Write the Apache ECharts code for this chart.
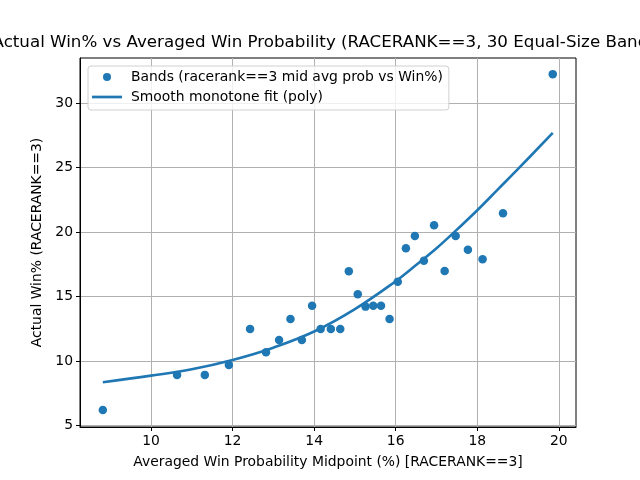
<!DOCTYPE html>
<html lang="en">
<head>
    <meta charset="UTF-8">
    <title>Actual Win% vs Averaged Win Probability</title>
    <script src="https://cdn.jsdelivr.net/npm/echarts@6/dist/echarts.min.js"></script>
    <style>
        *{
            margin: 0;
            padding: 0;
        }
        html ,body{
            width: 100%;
            height: 100%;
            overflow: hidden;
            background: #fff;
        }
        .container{
            width: 640px;
            height: 480px;
        }
    </style>
</head>
<body>
<div class="container"></div>
<script>
    // band midpoints (x) and actual win% (y)
    let bandX=[8.82,10.64,11.32,11.91,12.43,12.82,13.14,13.42,13.70,13.95,14.16,14.41,14.64,14.85,15.07,
        15.26,15.45,15.64,15.85,16.05,16.25,16.47,16.69,16.94,17.20,17.47,17.77,18.13,18.63,19.85];
    let bandWin=[6.22,8.94,8.94,9.71,12.50,10.70,11.65,13.28,11.65,14.29,12.50,12.50,12.50,16.98,15.19,
        14.23,14.29,14.29,13.28,16.15,18.76,19.71,17.78,20.54,17.00,19.71,18.63,17.91,21.47,32.25];
    // smooth fit
    let fitX=[8.82,10,11,12,13,14,15,16,16.5,17,17.5,18,18.5,19,19.85];
    let fitY=[8.37,8.88,9.38,10.1,11.05,12.3,14.04,16.2,17.45,18.75,20.2,21.7,23.3,24.9,27.7];
    let xTicks=[10,12,14,16,18,20];
    let yTicks=[5,10,15,20,25,30];

    let blue='#1f77b4';
    let font='DejaVu Sans';
    let container=document.querySelector('.container');
    let mycharts=echarts.init(container,null,{renderer:'canvas'});

    let options={
        backgroundColor:'#fff',
        animation:false,
        graphic:[{
            type:'text',
            x:328,
            y:43,
            style:{
                text:'Actual Win% vs Averaged Win Probability (RACERANK==3, 30 Equal-Size Bands)',
                font:'16.7px "DejaVu Sans"',
                fill:'#000',
                align:'center',
                verticalAlign:'middle'
            }
        }],
        grid:{
            left:80,
            right:64,
            top:58,
            bottom:53,
            show:true,
            borderColor:'#000',
            borderWidth:1,
            containLabel:false
        },
        legend:{
            left:88,
            top:66,
            orient:'vertical',
            itemWidth:30,
            itemHeight:8,
            itemGap:6,
            padding:[4,6,6,4],
            backgroundColor:'rgba(255,255,255,0.8)',
            borderColor:'#d0d0d0',
            borderWidth:1,
            borderRadius:3,
            textStyle:{
                fontFamily:font,
                fontSize:13.9,
                color:'#000',
                padding:[0,0,0,4]
            },
            data:[
                {name:'Bands (racerank==3 mid avg prob vs Win%)',icon:'circle'},
                {name:'Smooth monotone fit (poly)',icon:'path://M0,0h30v2.7h-30z',itemStyle:{color:blue,borderWidth:0}}
            ]
        },
        xAxis:{
            type:'value',
            min:8.26,
            max:20.42,
            name:'Averaged Win Probability Midpoint (%) [RACERANK==3]',
            nameLocation:'middle',
            nameGap:28,
            nameTextStyle:{fontFamily:font,fontSize:13.9,color:'#000'},
            axisLine:{show:true,onZero:false,lineStyle:{color:'#000',width:1}},
            axisTick:{show:true,length:4,inside:false,customValues:xTicks,lineStyle:{color:'#000'}},
            axisLabel:{customValues:xTicks,margin:7,fontFamily:font,fontSize:13.9,color:'#000'},
            splitLine:{show:true,lineStyle:{color:'#b0b0b0',width:1}}
        },
        yAxis:{
            type:'value',
            min:4.9,
            max:33.5,
            name:'Actual Win% (RACERANK==3)',
            nameLocation:'middle',
            nameGap:33,
            nameTextStyle:{fontFamily:font,fontSize:13.9,color:'#000'},
            axisLine:{show:true,onZero:false,lineStyle:{color:'#000',width:1}},
            axisTick:{show:true,length:4,inside:false,customValues:yTicks,lineStyle:{color:'#000'}},
            axisLabel:{customValues:yTicks,margin:7,fontFamily:font,fontSize:13.9,color:'#000'},
            splitLine:{show:true,lineStyle:{color:'#b0b0b0',width:1}}
        },
        series:[
            {
                name:'Bands (racerank==3 mid avg prob vs Win%)',
                type:'scatter',
                symbol:'circle',
                symbolSize:8.5,
                itemStyle:{color:blue,opacity:1},
                data:bandX.map((x,i)=>[x,bandWin[i]]),
                z:3
            },
            {
                name:'Smooth monotone fit (poly)',
                type:'line',
                smooth:0.4,
                symbol:'none',
                showSymbol:false,
                lineStyle:{color:blue,width:2.6},
                itemStyle:{color:blue},
                data:fitX.map((x,i)=>[x,fitY[i]]),
                z:2
            }
        ]
    };

    mycharts.setOption(options)
</script>
</body>
</html>
